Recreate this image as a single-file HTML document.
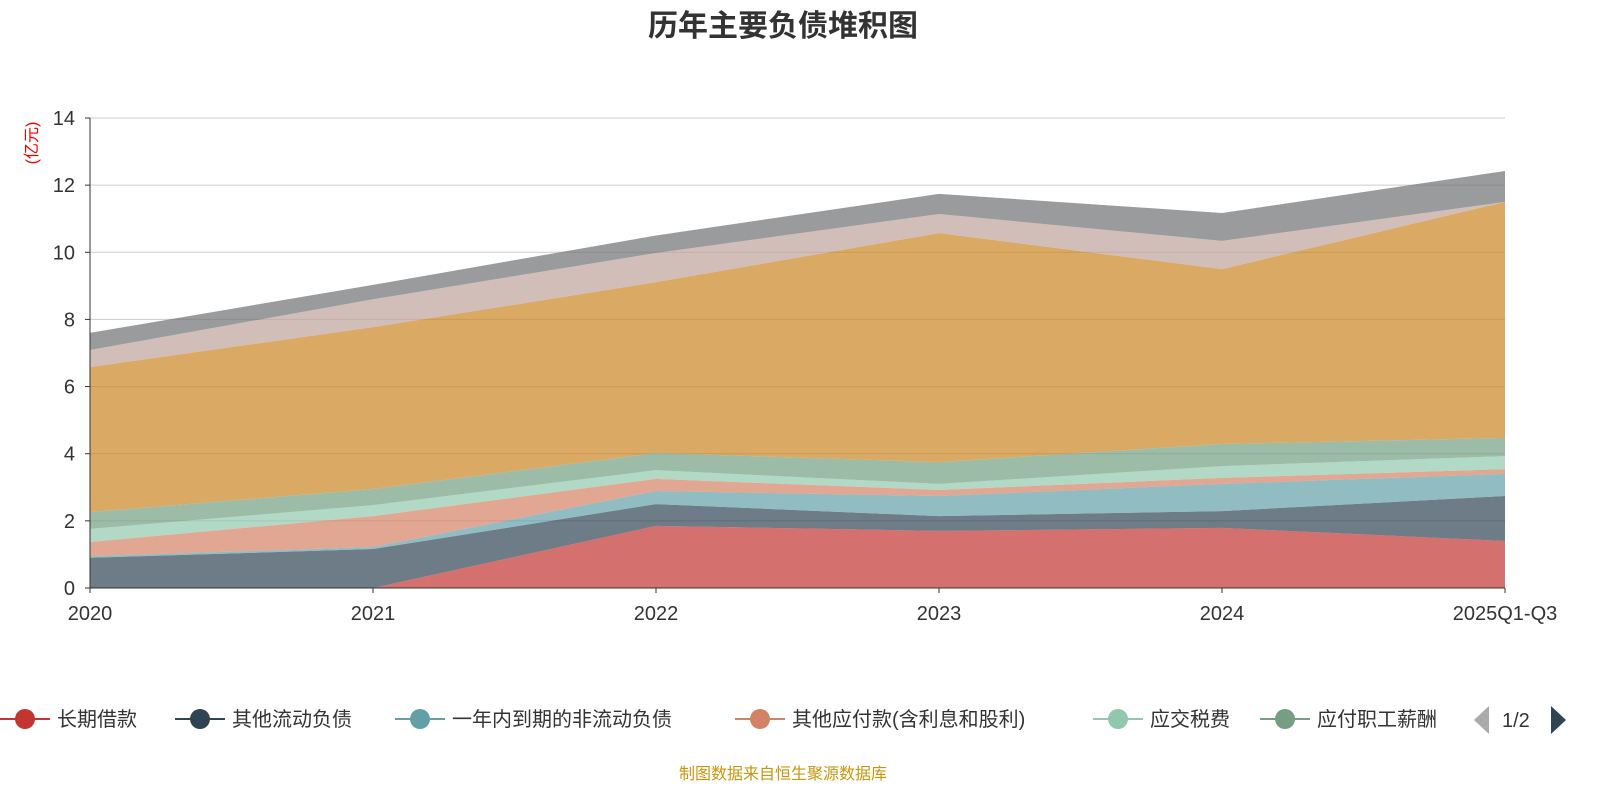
<!DOCTYPE html>
<html><head><meta charset="utf-8"><style>
body{margin:0;width:1600px;height:800px;background:#fff;overflow:hidden;font-family:"Liberation Sans","Noto Sans CJK SC",sans-serif}
</style></head><body>
<svg id="c" width="1600" height="800" font-family="Liberation Sans, Noto Sans CJK SC, sans-serif"></svg>
<script>
const categories=["2020","2021","2022","2023","2024","2025Q1-Q3"];
const seriesNames=["长期借款","其他流动负债","一年内到期的非流动负债","其他应付款(含利息和股利)","应交税费","应付职工薪酬","应付账款","合同负债","其他"];
const s0=[0,0,1.85,1.7,1.79,1.4];
const s1=[0.9,1.16,0.65,0.44,0.5,1.34];
const s2=[0.05,0.06,0.39,0.6,0.81,0.66];
const s3=[0.42,0.92,0.36,0.18,0.18,0.14];
const s4=[0.39,0.33,0.26,0.18,0.35,0.39];
const s5=[0.5,0.48,0.51,0.65,0.66,0.54];
const s6=[4.32,4.82,5.09,6.82,5.21,7.03];
const s7=[0.51,0.83,0.87,0.57,0.84,0.0];
const s8=[0.51,0.43,0.52,0.6,0.83,0.92];
const seriesValues=[s0,s1,s2,s3,s4,s5,s6,s7,s8];
const yTicks=[0,2,4,6,8,10,12,14];
const colors=["#c23531","#2f4554","#61a0a8","#d48265","#91c7ae","#749f83","#ca8622","#bda29a","#6e7074"];
const svg=document.getElementById('c');const NS="http://www.w3.org/2000/svg";
function mk(t,a,p){const e=document.createElementNS(NS,t);for(const k in a)e.setAttribute(k,a[k]);(p||svg).appendChild(e);return e;}
const x0=90,x1=1505,yb=588,yt=118;
const X=i=>x0+i*(x1-x0)/(categories.length-1);
const Y=v=>yb-v/14*(yb-yt);
let t=mk('text',{x:783,y:36,'text-anchor':'middle','font-size':30,'font-weight':'bold',fill:'#333'});t.textContent="历年主要负债堆积图";


yTicks.forEach(v=>{
 const l=mk('line',{x1:x0,x2:x1,y1:Y(v),y2:Y(v),stroke:'#ccc'});
 
 
 const tx=mk('text',{x:75,y:Y(v)+7,'text-anchor':'end','font-size':20,fill:'#333'});tx.textContent=v;
 
 
});
let cum=categories.map(()=>0);
seriesValues.forEach((s,k)=>{
 const lo=cum.slice();cum=cum.map((c,i)=>c+s[i]);
 let d=cum.map((v,i)=>(i?'L':'M')+X(i)+','+Y(v)).join('');
 for(let i=lo.length-1;i>=0;i--)d+='L'+X(i)+','+Y(lo[i]);
 const p=mk('path',{d:d+'Z',fill:colors[k],'fill-opacity':0.7});
 
 
});
mk('line',{x1:x0,x2:x0,y1:yt,y2:yb,stroke:'#333'});
mk('line',{x1:x0,x2:x1,y1:yb,y2:yb,stroke:'#333'});
yTicks.forEach(v=>mk('line',{x1:x0-5,x2:x0,y1:Y(v),y2:Y(v),stroke:'#333'}));
categories.forEach((c,i)=>{
 mk('line',{x1:X(i),x2:X(i),y1:yb,y2:yb+5,stroke:'#333'});
 const tx=mk('text',{x:X(i),y:620,'text-anchor':'middle','font-size':20,fill:'#333'});tx.textContent=c;
 
 
});
t=mk('text',{transform:'translate(37,143) rotate(-90)','text-anchor':'middle','font-size':16,fill:'#e00'});t.textContent="(亿元)";


const lx=[25,200,420,760,1118,1285];
for(let k=0;k<6;k++){
 const g=mk('g',{});
 
 
 mk('line',{x1:lx[k]-25,x2:lx[k]+25,y1:719,y2:719,stroke:colors[k],'stroke-width':2},g);
 mk('circle',{cx:lx[k],cy:719,r:10,fill:colors[k]},g);
 const tx=mk('text',{x:lx[k]+32,y:726,'font-size':20,fill:'#333'},g);tx.textContent=seriesNames[k];
}
mk('rect',{x:1455,y:700,width:18,height:40,fill:'#fff'});
let a=mk('path',{d:'M1489,706L1474,720L1489,734Z',fill:'#aaa'});

t=mk('text',{x:1502,y:727,'font-size':20,fill:'#333'});t.textContent="1/2";

a=mk('path',{d:'M1551,706L1566,720L1551,734Z',fill:'#2f4554'});

t=mk('text',{x:783,y:779,'text-anchor':'middle','font-size':16,fill:'#c8960c'});t.textContent="制图数据来自恒生聚源数据库";

</script></body></html>
